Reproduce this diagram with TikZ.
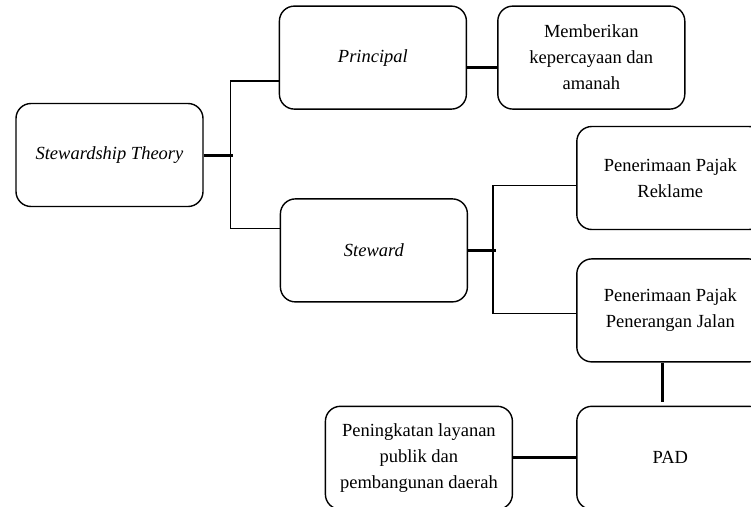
\documentclass[tikz,border=0pt]{standalone}
\usepackage{fontspec}
\setmainfont{Liberation Serif}
\usetikzlibrary{positioning}

\begin{document}
\begin{tikzpicture}[
    x=1pt, y=-1pt,
    box/.style={
        draw,
        line width=1.4pt,
        rounded corners=15pt,
        align=center,
        font=\fontsize{18.5}{26}\selectfont,
        minimum width=187pt,
        minimum height=103pt,
        inner sep=4pt
    },
    thin/.style={line width=1.4pt},
    thick line/.style={line width=3pt}
]
\useasboundingbox (0,0) rectangle (751,506);
\clip (0,0) rectangle (751,506);

\node[box] (theory) at (109.5,155) {\itshape Stewardship Theory};

\node[box, above right=-7pt and 75pt of theory] (principal) {\itshape Principal};

\node[box, below right=-9pt and 76pt of theory] (steward) {\itshape Steward};

\node[box, right=30pt of principal] (amanah)
{Memberikan\\kepercayaan dan\\amanah};

\node[box, above right=-32pt and 108pt of steward] (reklame)
{Penerimaan Pajak\\Reklame};

\node[box, below=28pt of reklame] (jalan)
{Penerimaan Pajak\\Penerangan Jalan};

\node[box, below=43pt of jalan] (pad) {PAD};

\node[box, left=63pt of pad] (layanan)
{Peningkatan layanan\\publik dan\\pembangunan daerah};

\coordinate (jt) at ([xshift=27pt]theory.east);
\coordinate (js) at ([xshift=25pt]steward.east);

\draw[thick line] (theory.east) -- ([xshift=2pt]jt);
\draw[thin] ([yshift=-23.5pt]principal.west) -| (jt) |- ([yshift=22pt]steward.west);
\draw[thick line] ([yshift=-10pt]principal.east) -- ([yshift=-10pt]amanah.west);

\draw[thick line] (steward.east) -- ([xshift=3pt]js);
\draw[thin] ([yshift=-7.5pt]reklame.west) -| (js) |- ([yshift=-3pt]jalan.west);

\draw[thick line, shorten >=4pt] ([xshift=-8pt]jalan.south) -- ([xshift=-8pt]pad.north);
\draw[thick line] (layanan.east) -- (pad.west);

\end{tikzpicture}
\end{document}
